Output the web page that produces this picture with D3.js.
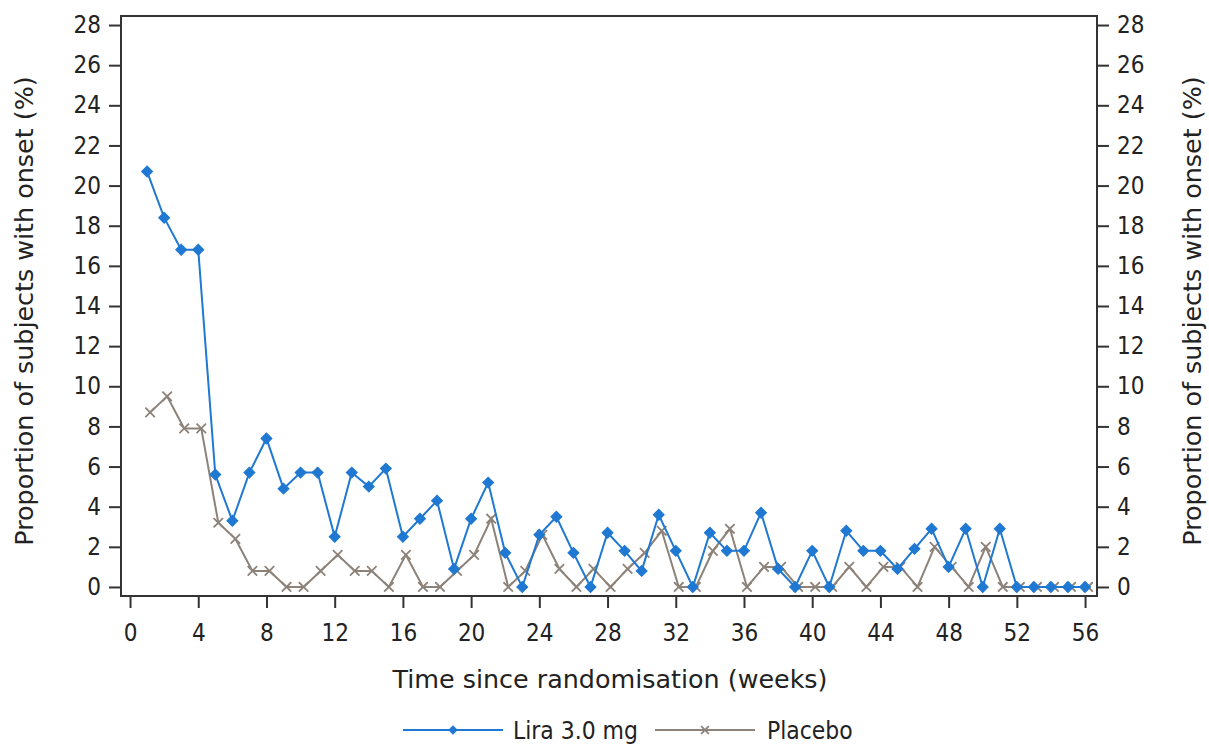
<!DOCTYPE html>
<html>
<head>
<meta charset="utf-8">
<script src="https://cdn.jsdelivr.net/npm/d3@7"></script>
<style>
  body { margin: 0; background: #fff; }
  svg { display: block; font-family: "DejaVu Sans", sans-serif; }
  .cond { font-stretch: condensed; }
</style>
</head>
<body>
<div id="chart"></div>
<script>
const width = 1209;
const height = 744;

// weeks since randomisation
const weeks = d3.range(1, 57);

// proportion of subjects with onset (%) per week
const liraValues = [
  20.7, 18.4, 16.8, 16.8, 5.6, 3.3, 5.7, 7.4, 4.9, 5.7,
  5.7, 2.5, 5.7, 5.0, 5.9, 2.5, 3.4, 4.3, 0.9, 3.4,
  5.2, 1.7, 0, 2.6, 3.5, 1.7, 0, 2.7, 1.8, 0.8,
  3.6, 1.8, 0, 2.7, 1.8, 1.8, 3.7, 0.9, 0, 1.8,
  0, 2.8, 1.8, 1.8, 0.9, 1.9, 2.9, 1.0, 2.9, 0,
  2.9, 0, 0, 0, 0, 0
];
const placeboValues = [
  8.7, 9.5, 7.9, 7.9, 3.2, 2.4, 0.8, 0.8, 0, 0,
  0.8, 1.6, 0.8, 0.8, 0, 1.6, 0, 0, 0.8, 1.6,
  3.4, 0, 0.8, 2.6, 0.9, 0, 0.9, 0, 0.9, 1.7,
  2.8, 0, 0, 1.8, 2.9, 0, 1.0, 1.0, 0, 0,
  0, 1.0, 0, 1.0, 1.0, 0, 2.0, 1.0, 0, 2.0,
  0, 0, 0, 0, 0, 0
];

const xTicks = d3.range(0, 57, 4);
const yTicks = d3.range(0, 29, 2);

const seriesNames = ['Lira 3.0 mg', 'Placebo'];
const seriesColors = ['#1f78d1', '#8c8279'];

const plot = { left: 121, right: 1097, top: 16, bottom: 596 };

const x = d3.scaleLinear().domain([-0.53, 56.7]).range([plot.left, plot.right]);
const y = d3.scaleLinear().domain([-0.45, 28.45]).range([plot.bottom, plot.top]);

const svg = d3.select('#chart').append('svg')
  .attr('width', width)
  .attr('height', height);

const axisColor = '#333';
const textColor = '#222';

// axes
const xAxis = svg.append('g')
  .attr('transform', `translate(0,${plot.bottom})`)
  .call(d3.axisBottom(x).tickValues(xTicks).tickSize(12).tickPadding(16));
const yLeft = svg.append('g')
  .attr('transform', `translate(${plot.left},0)`)
  .call(d3.axisLeft(y).tickValues(yTicks).tickSize(12).tickPadding(8));
const yRight = svg.append('g')
  .attr('transform', `translate(${plot.right},0)`)
  .call(d3.axisRight(y).tickValues(yTicks).tickSize(12).tickPadding(8));

[xAxis, yLeft, yRight].forEach(g => {
  g.select('.domain').remove();
  g.selectAll('line').attr('stroke', axisColor).attr('stroke-width', 2);
  g.selectAll('text')
    .attr('class', 'cond')
    .attr('fill', textColor)
    .style('font-size', '24px')
    .style('font-family', '"DejaVu Sans", sans-serif');
});

// frame
svg.append('rect')
  .attr('x', plot.left)
  .attr('y', plot.top)
  .attr('width', plot.right - plot.left)
  .attr('height', plot.bottom - plot.top)
  .attr('fill', 'none')
  .attr('stroke', axisColor)
  .attr('stroke-width', 2);

// titles
svg.append('text')
  .attr('x', 610)
  .attr('y', 688)
  .attr('text-anchor', 'middle')
  .attr('fill', textColor)
  .style('font-size', '25.4px')
  .text('Time since randomisation (weeks)');

const yTitle = 'Proportion of subjects with onset (%)';
[33, 1201].forEach(tx => {
  svg.append('text')
    .attr('transform', `translate(${tx},${(plot.top + plot.bottom) / 2 + 5}) rotate(-90)`)
    .attr('text-anchor', 'middle')
    .attr('fill', textColor)
    .style('font-size', '25.4px')
    .text(yTitle);
});

// series
const series = [
  { name: seriesNames[0], color: seriesColors[0], values: liraValues, shift: 0, marker: 'diamond' },
  { name: seriesNames[1], color: seriesColors[1], values: placeboValues, shift: 3, marker: 'x' }
];

function drawMarker(sel, s, big) {
  if (s.marker === 'diamond') {
    sel.attr('d', d3.symbol().type(d3.symbolSquare).size(big ? 60 : 34))
      .attr('fill', s.color)
      .attr('stroke', s.color)
      .attr('stroke-width', 1);
  } else {
    sel.attr('d', d3.symbol().type(d3.symbolTimes).size(big ? 60 : 40))
      .attr('fill', 'none')
      .attr('stroke', s.color)
      .attr('stroke-width', 1.8);
  }
}

const line = d3.line()
  .x(d => d.px)
  .y(d => y(d.v));

series.slice().reverse().forEach(s => {
  const pts = weeks.map((w, i) => ({ px: x(w) + s.shift, v: s.values[i] }));
  const g = svg.append('g');
  g.append('path')
    .datum(pts)
    .attr('d', line)
    .attr('fill', 'none')
    .attr('stroke', s.color)
    .attr('stroke-width', 2);
  const rot = s.marker === 'diamond' ? ' rotate(45)' : '';
  g.selectAll('path.pt')
    .data(pts)
    .join('path')
    .attr('class', 'pt')
    .attr('transform', d => `translate(${d.px},${y(d.v)})${rot}`)
    .call(drawMarker, s, true);
});

// legend
const legendY = 730;
const legendItems = [
  { lineX: 403, textX: 513 },
  { lineX: 655, textX: 767 }
];
series.forEach((s, i) => {
  const it = legendItems[i];
  const g = svg.append('g');
  g.append('line')
    .attr('x1', it.lineX).attr('x2', it.lineX + 100)
    .attr('y1', legendY).attr('y2', legendY)
    .attr('stroke', s.color).attr('stroke-width', 2);
  const rot = s.marker === 'diamond' ? ' rotate(45)' : '';
  g.append('path')
    .attr('transform', `translate(${it.lineX + 50},${legendY})${rot}`)
    .call(drawMarker, s, false);
  g.append('text')
    .attr('class', 'cond')
    .attr('x', it.textX)
    .attr('y', legendY + 9)
    .attr('fill', textColor)
    .style('font-size', '24.4px')
    .text(s.name);
});
</script>
</body>
</html>
